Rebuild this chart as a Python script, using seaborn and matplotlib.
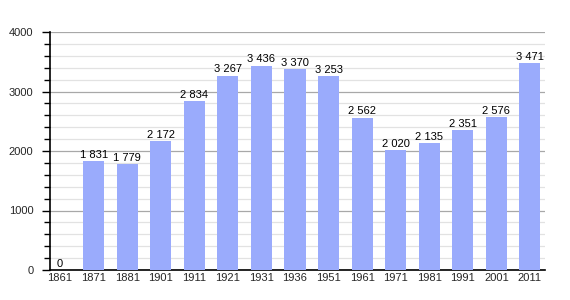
import matplotlib
matplotlib.use("Agg")
import matplotlib.pyplot as plt
import seaborn as sns
import pandas as pd
from matplotlib.ticker import MultipleLocator

years = ["1861", "1871", "1881", "1901", "1911", "1921", "1931", "1936",
         "1951", "1961", "1971", "1981", "1991", "2001", "2011"]
population = [0, 1831, 1779, 2172, 2834, 3267, 3436, 3370,
              3253, 2562, 2020, 2135, 2351, 2576, 3471]
y_ticks = [0, 1000, 2000, 3000, 4000]

df = pd.DataFrame({"year": years, "pop": population})

sns.set_style("white")
plt.rcParams["font.family"] = ["Liberation Sans", "DejaVu Sans"]

fig = plt.figure(figsize=(5.7, 3.0), dpi=100)
ax = fig.add_axes([50 / 570, 30 / 300, 495 / 570, 238 / 300])

sns.barplot(data=df, x="year", y="pop", color="#9aabfc", saturation=1,
            width=0.63, ax=ax, zorder=3, linewidth=0)

ax.set_ylim(0, 4000)
ax.set_xlim(-0.3, 14.45)
ax.set_yticks(y_ticks)
ax.yaxis.set_minor_locator(MultipleLocator(200))
ax.grid(axis="y", which="major", color="#a8a8a8", linewidth=0.9, zorder=0)
ax.grid(axis="y", which="minor", color="#e2e2e2", linewidth=0.9, zorder=0)
ax.set_axisbelow(True)

for s in ["top", "right"]:
    ax.spines[s].set_visible(False)
for s in ["left", "bottom"]:
    ax.spines[s].set_color("black")
    ax.spines[s].set_linewidth(1.2)

ax.tick_params(axis="y", which="major", length=6, width=1, color="black",
               labelsize=8, pad=6, left=True)
ax.tick_params(axis="y", which="minor", length=4, width=1, color="black", left=True)
ax.tick_params(axis="x", length=0, labelsize=8, pad=2)
ax.set_xlabel("")
ax.set_ylabel("")

for i, v in enumerate(population):
    label = f"{v:,}".replace(",", " ")
    ax.text(i, v + 20, label, ha="center", va="bottom", fontsize=8,
            color="black", zorder=4)

fig.savefig("out.png", dpi=100)
